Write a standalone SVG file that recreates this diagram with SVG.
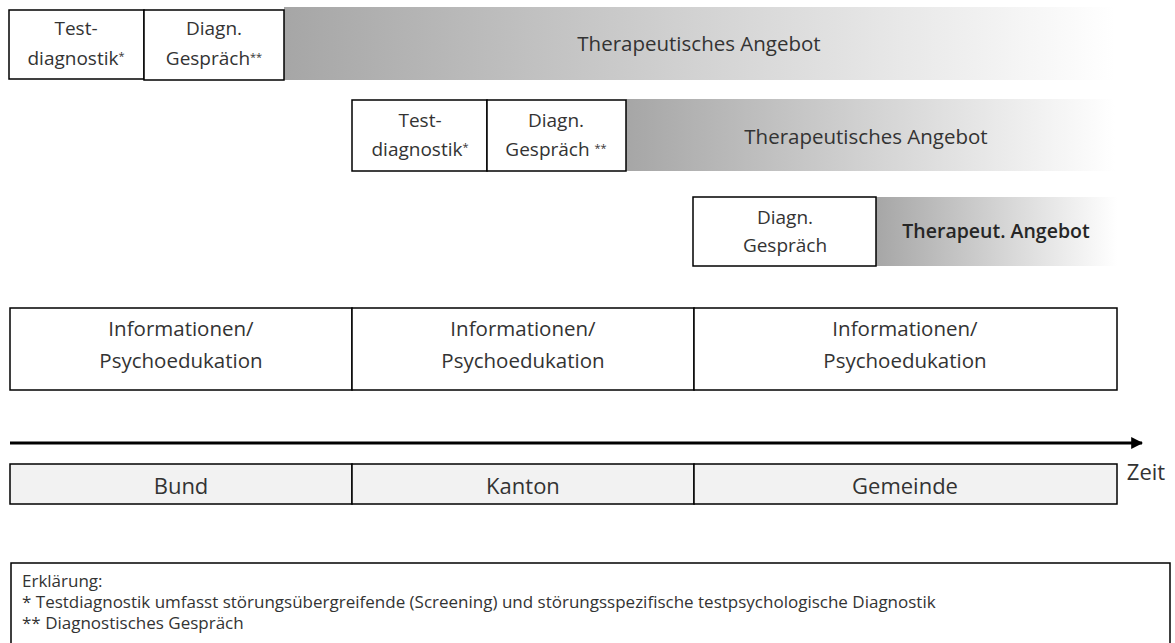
<svg xmlns="http://www.w3.org/2000/svg" width="1175" height="643" viewBox="0 0 1175 643">
<style>
text{font-family:"Open Sans","Liberation Sans",sans-serif;fill:#333;text-anchor:middle}
.box{fill:#fff;stroke:#000;stroke-width:1.5}
.gbox{fill:#f2f2f2;stroke:#000;stroke-width:1.5}
.t{font-size:19px}
.th{font-size:20.5px}
.i{font-size:20.5px}
.lv{font-size:22px}
.lg{font-size:17px;text-anchor:start}
.sup{font-size:11px}
</style>
<defs>
<linearGradient id="g" x1="0" y1="0" x2="1" y2="0">
<stop offset="0" stop-color="#a6a6a6"/>
<stop offset="1" stop-color="#ffffff"/>
</linearGradient>
<marker id="ah" viewBox="0 0 10 10" refX="9" refY="5" markerWidth="4" markerHeight="4" orient="auto">
<path d="M0,0 L10,5 L0,10 z" fill="#000"/>
</marker>
</defs>
<g id="row1">
<rect x="284" y="7" width="831" height="73" fill="url(#g)"/>
<text class="th" x="699" y="51">Therapeutisches Angebot</text>
<rect class="box" x="9" y="10" width="135" height="69"/>
<text class="t" x="76" y="35">Test-</text>
<text class="t" x="76" y="65">diagnostik<tspan class="sup" dy="-5">*</tspan></text>
<rect class="box" x="144" y="10" width="140" height="70"/>
<text class="t" x="214" y="35">Diagn.</text>
<text class="t" x="214" y="65">Gespräch<tspan class="sup" dy="-4">**</tspan></text>
</g>
<g id="row2">
<rect x="626" y="99" width="489" height="72" fill="url(#g)"/>
<text class="th" x="866" y="144">Therapeutisches Angebot</text>
<rect class="box" x="352" y="100" width="135" height="71"/>
<text class="t" x="420" y="127">Test-</text>
<text class="t" x="420" y="156">diagnostik<tspan class="sup" dy="-5">*</tspan></text>
<rect class="box" x="487" y="100" width="139" height="71"/>
<text class="t" x="556" y="127">Diagn.</text>
<text class="t" x="556" y="156">Gespräch <tspan class="sup" dy="-4">**</tspan></text>
</g>
<g id="row3">
<rect x="876" y="197" width="241" height="69" fill="url(#g)"/>
<text x="996" y="238" style="font-size:19.5px;font-weight:600;fill:#262626">Therapeut. Angebot</text>
<rect class="box" x="693" y="197" width="183" height="69"/>
<text class="t" x="785" y="224">Diagn.</text>
<text class="t" x="785" y="252">Gespräch</text>
</g>
<g id="info">
<rect class="box" x="10" y="308" width="342" height="82"/>
<rect class="box" x="352" y="308" width="342" height="82"/>
<rect class="box" x="694" y="308" width="423" height="82"/>
<text class="i" x="181" y="336">Informationen/</text>
<text class="i" x="181" y="368">Psychoedukation</text>
<text class="i" x="523" y="336">Informationen/</text>
<text class="i" x="523" y="368">Psychoedukation</text>
<text class="i" x="905" y="336">Informationen/</text>
<text class="i" x="905" y="368">Psychoedukation</text>
</g>
<g id="connectors">
<line x1="10" y1="443" x2="1142" y2="443" stroke="#000" stroke-width="3" marker-end="url(#ah)"/>
</g>
<g id="levels">
<rect class="gbox" x="10" y="464" width="342" height="40"/>
<rect class="gbox" x="352" y="464" width="342" height="40"/>
<rect class="gbox" x="694" y="464" width="423" height="40"/>
<text class="lv" x="181" y="494">Bund</text>
<text class="lv" x="523" y="494">Kanton</text>
<text class="lv" x="905" y="494">Gemeinde</text>
<text class="lv" x="1146" y="480">Zeit</text>
</g>
<g id="legend">
<rect class="box" x="11" y="563" width="1159" height="90"/>
<text class="lg" x="22" y="587">Erklärung:</text>
<text class="lg" x="22" y="608">* Testdiagnostik umfasst störungsübergreifende (Screening) und störungsspezifische testpsychologische Diagnostik</text>
<text class="lg" x="22" y="629">** Diagnostisches Gespräch</text>
</g>
</svg>
